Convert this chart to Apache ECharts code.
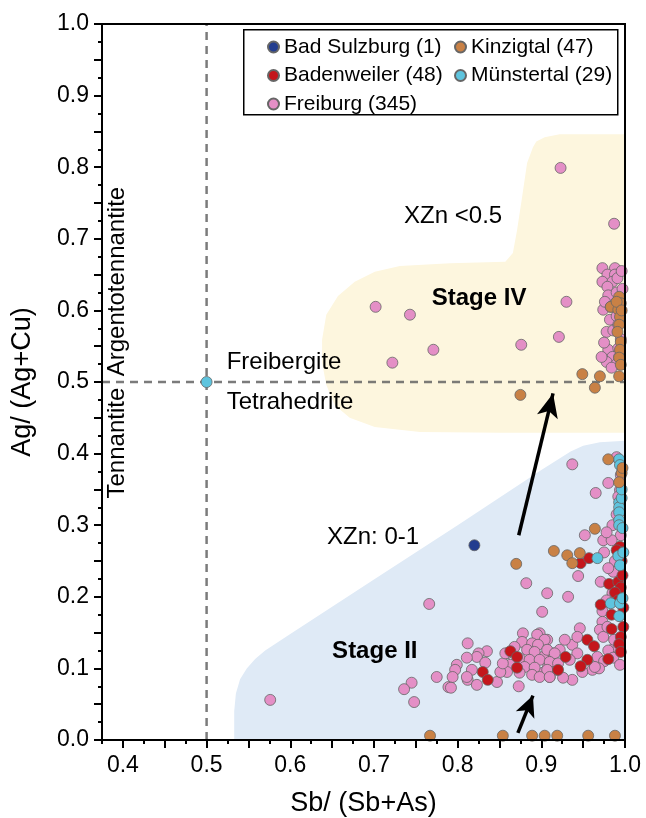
<!DOCTYPE html>
<html><head><meta charset="utf-8">
<script src="https://cdn.jsdelivr.net/npm/echarts@6/dist/echarts.min.js"></script>
<style>html,body{margin:0;padding:0;background:#fff}#c{width:646px;height:818px}</style>
</head><body><div id="c"></div>
<script>
const FONT = '"Liberation Sans", Arial, Helvetica, sans-serif';

// ---- axis ticks ----
const xLabelValues = [0.4, 0.5, 0.6, 0.7, 0.8, 0.9, 1.0];
const xMajorTicks = [0.4, 0.45, 0.5, 0.55, 0.6, 0.65, 0.7, 0.75, 0.8, 0.85, 0.9, 0.95, 1.0];
const xMinorTicks = [0.375, 0.425, 0.475, 0.525, 0.575, 0.625, 0.675, 0.725, 0.775, 0.825, 0.875, 0.925, 0.975];
const yLabelValues = [0.0, 0.1, 0.2, 0.3, 0.4, 0.5, 0.6, 0.7, 0.8, 0.9, 1.0];
const yMajorTicks = [0, 0.05, 0.1, 0.15, 0.2, 0.25, 0.3, 0.35, 0.4, 0.45, 0.5, 0.55, 0.6, 0.65, 0.7, 0.75, 0.8, 0.85, 0.9, 0.95, 1.0];
const yMinorTicks = [0.025, 0.075, 0.125, 0.175, 0.225, 0.275, 0.325, 0.375, 0.425, 0.475, 0.525, 0.575, 0.625, 0.675, 0.725, 0.775, 0.825, 0.875, 0.925, 0.975];

// ---- series data [Sb/(Sb+As), Ag/(Ag+Cu)] ----
const badSulzburg = [[0.820, 0.272]];

const kinzigtal = [
  [0.949,0.511],[0.970,0.508],[0.993,0.508],[0.964,0.492],[0.875,0.482],[0.983,0.605],
  [0.993,0.619],[0.995,0.610],[0.992,0.601],[0.994,0.591],[0.993,0.580],[0.995,0.556],
  [0.994,0.545],[0.993,0.534],[0.995,0.524],[0.990,0.612],[0.996,0.600],[0.991,0.570],
  [0.980,0.392],[0.996,0.373],[0.993,0.360],[0.997,0.380],[0.964,0.295],[0.915,0.264],
  [0.931,0.258],[0.937,0.247],[0.946,0.261],[0.870,0.246],
  [0.767,0.006],[0.854,0.006],[0.889,0.006],[0.904,0.006],[0.919,0.006],[0.956,0.006],[0.988,0.006]
];

const badenweiler = [
  [0.947,0.247],[0.957,0.254],[0.994,0.270],[0.997,0.262],[0.990,0.265],[0.981,0.218],
  [0.992,0.221],[0.995,0.213],[0.988,0.206],[0.997,0.230],[0.971,0.189],[0.984,0.175],
  [0.998,0.158],[0.984,0.155],[0.995,0.144],[0.993,0.134],[0.995,0.123],[0.980,0.113],
  [0.955,0.140],[0.963,0.131],[0.929,0.116],[0.955,0.112],[0.947,0.103],[0.920,0.098],
  [0.863,0.124],[0.871,0.116],[0.871,0.101],[0.830,0.095],[0.836,0.084],[0.998,0.185],
  [0.992,0.195],[0.996,0.250]
];

const munstertal = [
  [0.5,0.5],[0.993,0.392],[0.994,0.384],[0.993,0.332],[0.993,0.325],[0.993,0.318],
  [0.993,0.307],[0.993,0.300],[0.967,0.254],[0.992,0.257],[0.994,0.244],[0.983,0.191],
  [0.994,0.191],[0.993,0.173],[0.998,0.262],[0.996,0.338],[0.997,0.296],[0.997,0.198],
  [0.996,0.350]
];

const freiburg = [
  // upper (Stage IV)
  [0.923,0.799],[0.987,0.721],[0.702,0.605],[0.743,0.594],[0.930,0.612],[0.771,0.545],
  [0.722,0.527],[0.876,0.552],[0.921,0.563],
  [0.973,0.659],[0.988,0.659],[0.979,0.650],[0.988,0.650],[0.973,0.640],[0.985,0.640],
  [0.991,0.645],[0.979,0.633],[0.980,0.621],[0.990,0.625],[0.974,0.601],[0.982,0.587],
  [0.990,0.592],[0.978,0.570],[0.986,0.572],[0.992,0.580],[0.980,0.545],[0.992,0.547],
  [0.985,0.535],[0.978,0.528],[0.990,0.525],[0.976,0.612],[0.983,0.605],[0.995,0.600],
  [0.975,0.555],[0.995,0.560],[0.972,0.535],[0.993,0.535],[0.984,0.520],[0.997,0.630],
  [0.996,0.655],
  // lower isolated
  [0.576,0.056],[0.766,0.190],[0.745,0.080],[0.736,0.071],[0.748,0.053],[0.775,0.088],
  [0.789,0.074],[0.937,0.385],[0.980,0.359],[0.965,0.345],[0.994,0.349],[0.952,0.286],
  [0.995,0.286],[0.974,0.279],[0.984,0.279],[0.944,0.229],[0.971,0.221],[0.986,0.235],
  [0.988,0.250],[0.907,0.205],[0.932,0.200],[0.901,0.179],[0.882,0.219],[0.973,0.180],
  [0.973,0.165],[0.970,0.154],[0.946,0.156],[0.974,0.144],[0.988,0.130],[0.967,0.116],
  [0.961,0.098],[0.949,0.095],[0.937,0.084],[0.926,0.087],[0.910,0.088],[0.979,0.158],
  [0.987,0.140],[0.990,0.395],[0.995,0.370],[0.992,0.340],[0.990,0.315],[0.985,0.300],
  [0.978,0.290],[0.975,0.262],[0.980,0.240],[0.985,0.205],[0.978,0.195],[0.992,0.128],
  [0.980,0.125],[0.986,0.115],[0.975,0.110],[0.994,0.105],[0.969,0.100],
  // dense Stage II cluster
  [0.898,0.149],[0.907,0.140],[0.914,0.121],[0.922,0.126],[0.937,0.133],[0.943,0.121],
  [0.934,0.112],[0.902,0.116],[0.908,0.102],[0.943,0.144],[0.928,0.140],[0.919,0.098],
  [0.902,0.094],[0.964,0.102],
  [0.878,0.149],[0.895,0.147],[0.904,0.140],[0.877,0.137],[0.889,0.135],[0.896,0.133],
  [0.868,0.130],[0.883,0.126],[0.892,0.123],[0.907,0.126],[0.916,0.121],[0.859,0.121],
  [0.874,0.114],[0.886,0.112],[0.898,0.112],[0.910,0.109],[0.920,0.107],[0.863,0.105],
  [0.880,0.102],[0.892,0.101],[0.907,0.098],[0.859,0.095],[0.874,0.094],[0.889,0.091],
  [0.898,0.088],[0.910,0.088],[0.847,0.081],[0.873,0.075],[0.851,0.095],[0.854,0.107],
  [0.857,0.121],
  // left tail
  [0.812,0.135],[0.835,0.124],[0.825,0.121],[0.823,0.116],[0.811,0.115],[0.833,0.108],
  [0.799,0.105],[0.797,0.098],[0.817,0.098],[0.794,0.088],[0.812,0.084],[0.823,0.077],
  [0.792,0.073],[0.811,0.088]
];

// ---- shaded fields (outline in data units) ----
const stageIVField = [
  [1.0,0.846],[0.922,0.846],[0.904,0.842],[0.894,0.836],[0.890,0.828],[0.883,0.806],
  [0.877,0.758],[0.871,0.712],[0.866,0.680],[0.857,0.668],[0.791,0.666],[0.731,0.662],
  [0.701,0.654],[0.677,0.640],[0.657,0.620],[0.643,0.594],[0.638,0.559],[0.638,0.527],
  [0.643,0.496],[0.653,0.468],[0.671,0.450],[0.701,0.437],[0.755,0.430],[0.851,0.429],
  [1.0,0.429]
];
const stageIIField = [
  [0.533,0.0],[0.533,0.040],[0.535,0.065],[0.540,0.085],[0.548,0.100],[0.558,0.113],
  [0.570,0.125],[0.600,0.148],[0.700,0.224],[0.800,0.300],[0.900,0.377],[0.935,0.403],
  [0.950,0.411],[0.970,0.416],[1.0,0.418],[1.0,0.0]
];

// ---- guide lines & arrows ----
const vGuide = [[0.5,0],[0.5,1]];
const hGuide = [[0.375,0.5],[1.0,0.5]];
const arrowLong = [[0.873,0.286],[0.914,0.484]];
const arrowShort = [[0.872,0.010],[0.890,0.062]];

// ---- annotations [text, x, y, align, bold, rotated] ----
const annotations = [
  ['Freibergite', 0.524, 0.528, 'left', false, false],
  ['Tetrahedrite', 0.524, 0.472, 'left', false, false],
  ['XZn <0.5', 0.736, 0.732, 'left', false, false],
  ['Stage IV', 0.769, 0.617, 'left', true, false],
  ['XZn: 0-1', 0.644, 0.2835, 'left', false, false],
  ['Stage II', 0.650, 0.124, 'left', true, false],
  ['Tennantite', 0.393, 0.492, 'right', false, true],
  ['Argentotennantite', 0.393, 0.508, 'left', false, true]
];

const chart = echarts.init(document.getElementById('c'), null, {renderer: 'canvas'});

function field(data, color) {
  return {
    type: 'custom', silent: true, clip: true, z: 1,
    data: [data[0]],
    renderItem: function (params, api) {
      return {type: 'polygon', shape: {points: data.map(p => api.coord(p))}, style: {fill: color}};
    }
  };
}
function scatter(name, data, color, z) {
  return {
    name: name, type: 'scatter', data: data, symbol: 'circle', symbolSize: 11, z: z,
    itemStyle: {color: color, borderColor: '#666', borderWidth: 0.8, opacity: 1}
  };
}
const axisLineStyle = {color: '#000', width: 2};

const option = {
  animation: false,
  grid: {left: 102, right: 21, top: 24, bottom: 78, containLabel: false, outerBoundsMode: 'none',
         show: true, borderColor: '#000', borderWidth: 2, backgroundColor: 'transparent', z: 10},
  xAxis: [{
    type: 'value', min: 0.375, max: 1.0, position: 'bottom',
    axisLine: {show: true, onZero: false, lineStyle: axisLineStyle},
    axisTick: {show: true, length: 8, lineStyle: {color: '#000', width: 2}, customValues: xMajorTicks},
    axisLabel: {customValues: xLabelValues, formatter: v => v.toFixed(1), margin: 14, fontSize: 23, color: '#000', fontFamily: FONT},
    splitLine: {show: false},
    name: 'Sb/ (Sb+As)', nameLocation: 'middle', nameGap: 50,
    nameTextStyle: {fontSize: 27, color: '#000', fontFamily: FONT}
  }, {
    type: 'value', min: 0.375, max: 1.0, position: 'bottom',
    axisLine: {show: false},
    axisTick: {show: true, length: 4, lineStyle: {color: '#000', width: 2}, customValues: xMinorTicks},
    axisLabel: {show: false}, splitLine: {show: false}
  }],
  yAxis: [{
    type: 'value', min: 0, max: 1.0, position: 'left',
    axisLine: {show: true, onZero: false, lineStyle: axisLineStyle},
    axisTick: {show: true, length: 8, lineStyle: {color: '#000', width: 2}, customValues: yMajorTicks},
    axisLabel: {customValues: yLabelValues, formatter: v => v.toFixed(1), margin: 13, fontSize: 23, color: '#000', fontFamily: FONT},
    splitLine: {show: false},
    name: 'Ag/ (Ag+Cu)', nameLocation: 'middle', nameGap: 66,
    nameTextStyle: {fontSize: 27, color: '#000', fontFamily: FONT}
  }, {
    type: 'value', min: 0, max: 1.0, position: 'left',
    axisLine: {show: false},
    axisTick: {show: true, length: 4, lineStyle: {color: '#000', width: 2}, customValues: yMinorTicks},
    axisLabel: {show: false}, splitLine: {show: false}
  }],
  legend: [{
    data: ['Bad Sulzburg (1)', 'Badenweiler (48)', 'Freiburg (345)'],
    orient: 'vertical', left: 262, top: 31, itemGap: 6.5, icon: 'circle', itemWidth: 11, itemHeight: 11,
    textStyle: {fontSize: 21, lineHeight: 22, color: '#000', fontFamily: FONT}, selectedMode: false, z: 20
  }, {
    data: ['Kinzigtal (47)', 'Münstertal (29)'],
    orient: 'vertical', left: 449, top: 31, itemGap: 6.5, icon: 'circle', itemWidth: 11, itemHeight: 11,
    textStyle: {fontSize: 21, lineHeight: 22, color: '#000', fontFamily: FONT}, selectedMode: false, z: 20
  }],
  series: [
    field(stageIVField, '#fdf6de'),
    field(stageIIField, '#dfeaf6'),
    {type: 'line', data: vGuide, symbol: 'none', silent: true, z: 2,
     lineStyle: {color: 'rgba(100,100,100,0.85)', width: 2.5, type: [8, 6]}},
    {type: 'line', data: hGuide, symbol: 'none', silent: true, z: 2,
     lineStyle: {color: 'rgba(100,100,100,0.85)', width: 2.5, type: [8, 6]}},
    {type: 'line', data: [], silent: true, z: 3,
     markLine: {
       silent: true, symbol: ['none', 'arrow'], symbolSize: [16, 24], animation: false,
       label: {show: false},
       lineStyle: {color: '#000', width: 3.5, type: 'solid'},
       emphasis: {disabled: true},
       data: [
         [{coord: arrowLong[0]}, {coord: arrowLong[1]}],
         [{coord: arrowShort[0]}, {coord: arrowShort[1], symbolSize: [15, 21]}]
       ]
     }},
    scatter('Freiburg (345)', freiburg, '#e48fc6', 4),
    scatter('Badenweiler (48)', badenweiler, '#c4161c', 5),
    scatter('Münstertal (29)', munstertal, '#5ec4de', 6),
    scatter('Kinzigtal (47)', kinzigtal, '#c98145', 7),
    scatter('Bad Sulzburg (1)', badSulzburg, '#233d8f', 8)
  ],
  graphic: [{
    type: 'rect', left: 243, top: 29, z: 15,
    shape: {width: 374, height: 85},
    style: {fill: '#fff', stroke: '#000', lineWidth: 1.5}
  }]
};
chart.setOption(option);

// place annotation texts through the chart's coordinate system
const texts = annotations.map(a => {
  const p = chart.convertToPixel({xAxisIndex: 0, yAxisIndex: 0}, [a[1], a[2]]);
  return {
    type: 'text', x: p[0], y: p[1], z: 12,
    rotation: a[5] ? Math.PI / 2 : 0,
    style: {
      text: a[0], fill: '#000', fontSize: 24, fontFamily: FONT,
      fontWeight: a[4] ? 'bold' : 'normal',
      align: a[3], verticalAlign: 'middle'
    }
  };
});
chart.setOption({graphic: option.graphic.concat(texts)});
</script>
</body></html>
